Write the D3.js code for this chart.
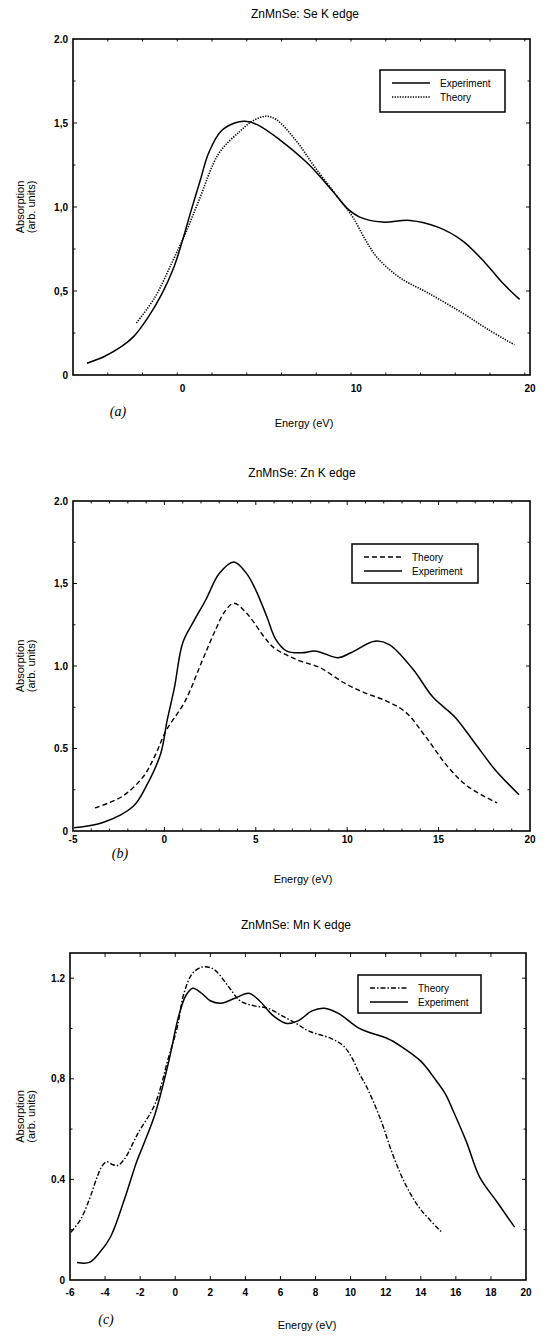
<!DOCTYPE html>
<html>
<head>
<meta charset="utf-8">
<script src="https://cdn.jsdelivr.net/npm/d3@7"></script>
<style>
  html, body { margin: 0; padding: 0; background: #fff; }
  svg { display: block; font-family: "Liberation Sans", Arial, sans-serif; }
</style>
</head>
<body>
<svg id="fig" width="543" height="1340"></svg>
<script>
// ---------- Se K edge ----------
const seExpEnergy = [-5.5,-4.5,-3.5,-2.8,-2.0,-1.2,-0.5,0,0.5,1.0,1.5,2.2,3.0,3.6,4.3,5.6,7.2,8.6,9.5,10.2,11.5,13.1,14.7,16.1,17.4,18.4,19.4];
const seExpAbs    = [0.07,0.11,0.17,0.23,0.34,0.48,0.64,0.80,0.98,1.15,1.32,1.45,1.50,1.51,1.49,1.40,1.26,1.10,0.99,0.94,0.91,0.92,0.88,0.80,0.67,0.55,0.45];
const seThEnergy  = [-2.65,-1.6,-0.6,0.2,0.95,2.1,3.3,4.0,4.8,5.4,6.5,7.6,9.0,9.8,10.5,11.2,12.5,14.1,16.1,17.6,19.1];
const seThAbs     = [0.31,0.46,0.67,0.85,1.04,1.32,1.45,1.51,1.54,1.52,1.40,1.24,1.05,0.94,0.81,0.70,0.58,0.49,0.37,0.27,0.18];
const seXTicks = [0, 10, 20];
const seXTickLabels = ["0", "10", "20"];
const seYTicks = [0, 0.5, 1, 1.5, 2];
const seYTickLabels = ["0", "0,5", "1,0", "1,5", "2.0"];

// ---------- Zn K edge ----------
const znExpEnergy = [-4.94,-3.4,-1.7,-1.0,-0.2,0.15,0.55,1.0,1.6,2.26,3.0,3.8,4.5,5.0,5.6,6.1,6.7,7.5,8.3,9.5,10.2,11.5,12.3,13.6,14.7,15.9,17.0,18.1,19.4];
const znExpAbs    = [0.02,0.05,0.15,0.27,0.47,0.67,0.87,1.14,1.27,1.40,1.56,1.63,1.56,1.46,1.30,1.16,1.09,1.08,1.09,1.05,1.08,1.15,1.13,0.98,0.81,0.69,0.53,0.37,0.22];
const znThEnergy  = [-3.8,-2.3,-1.15,-0.5,0.1,1.1,2.1,2.8,3.3,3.8,4.5,5.5,6.0,7.2,8.5,9.8,10.9,12.1,13.2,14.3,15.5,16.6,18.2];
const znThAbs     = [0.14,0.21,0.33,0.46,0.61,0.78,1.04,1.22,1.33,1.38,1.32,1.17,1.11,1.04,0.99,0.90,0.84,0.79,0.72,0.57,0.39,0.27,0.17];
const znXTicks = [-5, 0, 5, 10, 15, 20];
const znXTickLabels = ["-5", "0", "5", "10", "15", "20"];
const znYTicks = [0, 0.5, 1, 1.5, 2];
const znYTickLabels = ["0", "0.5", "1.0", "1,5", "2.0"];

// ---------- Mn K edge ----------
const mnExpEnergy = [-5.6,-4.9,-4.3,-3.7,-2.9,-2.2,-1.8,-1.15,-0.4,0.2,0.6,1.0,1.5,2.0,2.6,3.4,4.2,4.8,5.6,6.35,7.0,7.8,8.5,9.3,10.5,11.25,12.1,12.85,14.0,14.8,15.4,15.8,16.6,17.35,18.35,19.35];
const mnExpAbs    = [0.07,0.07,0.11,0.17,0.32,0.47,0.54,0.66,0.86,1.05,1.13,1.16,1.14,1.11,1.10,1.12,1.14,1.11,1.05,1.02,1.03,1.07,1.08,1.06,1.00,0.98,0.96,0.93,0.87,0.80,0.74,0.68,0.55,0.41,0.31,0.21];
const mnThEnergy  = [-5.95,-5.4,-4.9,-4.5,-4.2,-3.9,-3.6,-3.3,-2.9,-2.15,-1.15,-0.4,0.1,0.5,1.0,1.6,2.2,3.0,3.7,4.5,5.3,6.1,6.9,7.6,8.9,9.6,10.1,10.5,10.9,11.7,12.45,13.2,14.0,15.2];
const mnThAbs     = [0.19,0.24,0.32,0.40,0.45,0.47,0.46,0.455,0.48,0.58,0.70,0.88,1.00,1.14,1.22,1.245,1.235,1.17,1.11,1.09,1.08,1.05,1.02,0.99,0.96,0.93,0.88,0.82,0.77,0.64,0.49,0.37,0.28,0.19];
const mnXTicks = [-6,-4,-2,0,2,4,6,8,10,12,14,16,18,20];
const mnXTickLabels = ["-6","-4","-2","0","2","4","6","8","10","12","14","16","18","20"];
const mnYTicks = [0, 0.4, 0.8, 1.2];
const mnYTickLabels = ["0", "0.4", "0,8", "1.2"];

const svg = d3.select("#fig");
const zip = (xs, ys) => xs.map((x, i) => [x, ys[i]]);

function drawPanel(p) {
  const x = d3.scaleLinear().domain(p.xDomain).range([p.left, p.right]);
  const y = d3.scaleLinear().domain(p.yDomain).range([p.bottom, p.top]);
  const g = svg.append("g");

  // title
  g.append("text").attr("x", p.titleX).attr("y", p.titleY)
    .attr("text-anchor", "middle").attr("font-size", 12).text(p.title);

  // inward ticks on all four sides (longer at labelled values)
  const minorX = d3.range(p.xDomain[0], p.xDomain[1] + 1e-9, p.xMinor).filter(v => v > p.xDomain[0] + 1e-6 && v < p.xDomain[1] - 1e-6);
  const minorY = d3.range(0, p.yDomain[1] + 1e-9, p.yMinor).filter(v => v > 1e-6 && v < p.yDomain[1] - 1e-6);
  const tk = g.append("g").attr("stroke", "#111").attr("stroke-width", 1);
  minorX.forEach(v => {
    const L = p.xTicks.some(t => Math.abs(t - v) < 1e-6) ? 4 : 2.5;
    tk.append("line").attr("x1", x(v)).attr("x2", x(v)).attr("y1", p.bottom).attr("y2", p.bottom - L);
    tk.append("line").attr("x1", x(v)).attr("x2", x(v)).attr("y1", p.top).attr("y2", p.top + L);
  });
  minorY.forEach(v => {
    const L = p.yTicks.some(t => Math.abs(t - v) < 1e-6) ? 4 : 2.5;
    tk.append("line").attr("y1", y(v)).attr("y2", y(v)).attr("x1", p.left).attr("x2", p.left + L);
    tk.append("line").attr("y1", y(v)).attr("y2", y(v)).attr("x1", p.right).attr("x2", p.right - L);
  });

  // frame
  g.append("rect").attr("x", p.left).attr("y", p.top)
    .attr("width", p.right - p.left).attr("height", p.bottom - p.top)
    .attr("fill", "none").attr("stroke", "#000").attr("stroke-width", 1.6);

  // tick labels
  g.append("g").selectAll("text").data(p.xTicks).join("text")
    .attr("x", d => x(d)).attr("y", p.xLabelY)
    .attr("text-anchor", "middle").attr("font-size", 10).attr("font-weight", "bold")
    .text((d, i) => p.xTickLabels[i]);
  g.append("g").selectAll("text").data(p.yTicks).join("text")
    .attr("x", p.left - 5).attr("y", d => y(d) + 3.5)
    .attr("text-anchor", "end").attr("font-size", 10).attr("font-weight", "bold")
    .text((d, i) => p.yTickLabels[i]);

  // axis titles and panel tag
  const yc = (p.top + p.bottom) / 2;
  g.append("text").attr("transform", `translate(24,${yc}) rotate(-90)`)
    .attr("text-anchor", "middle").attr("font-size", 11).text("Absorption");
  g.append("text").attr("transform", `translate(35,${yc}) rotate(-90)`)
    .attr("text-anchor", "middle").attr("font-size", 11).text("(arb. units)");
  g.append("text").attr("x", p.energyX).attr("y", p.energyY)
    .attr("text-anchor", "middle").attr("font-size", 11).text("Energy (eV)");
  g.append("text").attr("x", p.tagX).attr("y", p.tagY)
    .attr("text-anchor", "middle").attr("font-size", 14)
    .attr("font-family", "'Liberation Serif', serif").attr("font-style", "italic")
    .text(p.tag);

  // curves
  const line = d3.line().x(d => x(d[0])).y(d => y(d[1])).curve(d3.curveCatmullRom.alpha(0.5));
  g.append("path").datum(zip(p.thE, p.thA)).attr("d", line)
    .attr("fill", "none").attr("stroke", "#000").attr("stroke-width", p.thWidth)
    .attr("stroke-dasharray", p.thDash);
  g.append("path").datum(zip(p.expE, p.expA)).attr("d", line)
    .attr("fill", "none").attr("stroke", "#000").attr("stroke-width", 1.5);

  // legend
  const lg = g.append("g");
  lg.append("rect").attr("x", p.leg.x).attr("y", p.leg.y).attr("width", p.leg.w).attr("height", p.leg.h)
    .attr("fill", "#fff").attr("stroke", "#000").attr("stroke-width", 1.5);
  p.leg.items.forEach((it, i) => {
    const yy = p.leg.y + 13 + i * 14;
    lg.append("line").attr("x1", p.leg.x + 12).attr("x2", p.leg.x + 50).attr("y1", yy).attr("y2", yy)
      .attr("stroke", "#000").attr("stroke-width", it.dash ? p.thWidth : 1.5)
      .attr("stroke-dasharray", it.dash || null);
    lg.append("text").attr("x", p.leg.x + 60).attr("y", yy + 3.5).attr("font-size", 10).text(it.label);
  });
}

drawPanel({
  title: "ZnMnSe: Se K edge", titleX: 305, titleY: 18,
  left: 73, right: 530, top: 39, bottom: 375,
  xDomain: [-6.3, 20], yDomain: [0, 2], xMinor: 2, yMinor: 0.25,
  xTicks: seXTicks, xTickLabels: seXTickLabels, yTicks: seYTicks, yTickLabels: seYTickLabels,
  xLabelY: 392, energyX: 304, energyY: 427, tag: "(a)", tagX: 118, tagY: 416,
  expE: seExpEnergy, expA: seExpAbs, thE: seThEnergy, thA: seThAbs,
  thDash: "1.3,1.3", thWidth: 1.6,
  leg: { x: 380, y: 70, w: 125, h: 42,
         items: [{ label: "Experiment" }, { label: "Theory", dash: "1.3,1.3" }] }
});

drawPanel({
  title: "ZnMnSe: Zn K edge", titleX: 302, titleY: 477,
  left: 73, right: 530, top: 501, bottom: 831,
  xDomain: [-5, 20], yDomain: [0, 2], xMinor: 1, yMinor: 0.25,
  xTicks: znXTicks, xTickLabels: znXTickLabels, yTicks: znYTicks, yTickLabels: znYTickLabels,
  xLabelY: 843, energyX: 303, energyY: 883, tag: "(b)", tagX: 120, tagY: 858,
  expE: znExpEnergy, expA: znExpAbs, thE: znThEnergy, thA: znThAbs,
  thDash: "5,3", thWidth: 1.4,
  leg: { x: 352, y: 544, w: 126, h: 39,
         items: [{ label: "Theory", dash: "5,3" }, { label: "Experiment" }] }
});

drawPanel({
  title: "ZnMnSe: Mn K edge", titleX: 296, titleY: 929,
  left: 70, right: 526, top: 953, bottom: 1280,
  xDomain: [-6, 20], yDomain: [0, 1.3], xMinor: 2, yMinor: 0.2,
  xTicks: mnXTicks, xTickLabels: mnXTickLabels, yTicks: mnYTicks, yTickLabels: mnYTickLabels,
  xLabelY: 1296, energyX: 307, energyY: 1329, tag: "(c)", tagX: 106, tagY: 1324,
  expE: mnExpEnergy, expA: mnExpAbs, thE: mnThEnergy, thA: mnThAbs,
  thDash: "5,2,1.5,2", thWidth: 1.4,
  leg: { x: 358, y: 975, w: 123, h: 38,
         items: [{ label: "Theory", dash: "5,2,1.5,2" }, { label: "Experiment" }] }
});
</script>
</body>
</html>
